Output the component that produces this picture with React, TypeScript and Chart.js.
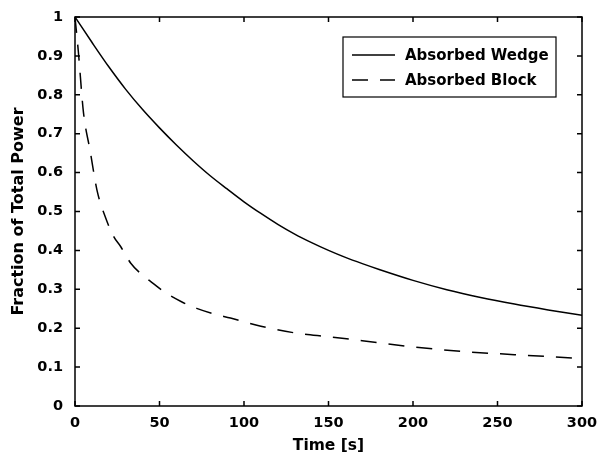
import React, { useEffect, useRef } from "react";
import { Chart, registerables } from "chart.js";

Chart.register(...registerables);

const wedgeTime = [0, 10, 20, 30, 40, 50, 60, 70, 80, 90, 100, 110, 120, 130, 140, 150, 160, 170, 180, 200, 220, 240, 260, 280, 300];
const wedgeFraction = [1.0, 0.935, 0.872, 0.814, 0.762, 0.715, 0.671, 0.63, 0.592, 0.558, 0.525, 0.495, 0.467, 0.442, 0.42, 0.4, 0.382, 0.366, 0.351, 0.323, 0.299, 0.279, 0.262, 0.247, 0.233];

const blockTime = [0, 2, 5, 9, 13, 18, 23, 27, 33, 39, 46, 54, 63, 72, 82, 92, 110, 130, 150, 170, 200, 230, 260, 300];
const blockFraction = [1.0, 0.91, 0.755, 0.655, 0.555, 0.485, 0.435, 0.41, 0.367, 0.34, 0.316, 0.29, 0.268, 0.251, 0.237, 0.226, 0.205, 0.188, 0.178, 0.168, 0.152, 0.14, 0.132, 0.122];

const seriesLabels = ["Absorbed Wedge", "Absorbed Block"];
const xTitle = "Time [s]";
const yTitle = "Fraction of Total Power";

const FONT = "'DejaVu Sans', sans-serif";

const framePlugin = {
  id: "frameAndLegend",
  afterDraw(chart: any) {
    const { ctx, chartArea: a, scales } = chart;
    ctx.save();
    ctx.strokeStyle = "#000";
    ctx.lineWidth = 1.5;
    ctx.setLineDash([]);
    ctx.strokeRect(a.left, a.top, a.right - a.left, a.bottom - a.top);
    const L = 5;
    ctx.beginPath();
    scales.x.ticks.forEach((t: any) => {
      const px = scales.x.getPixelForValue(t.value);
      ctx.moveTo(px, a.bottom);
      ctx.lineTo(px, a.bottom - L);
      ctx.moveTo(px, a.top);
      ctx.lineTo(px, a.top + L);
    });
    scales.y.ticks.forEach((t: any) => {
      const py = scales.y.getPixelForValue(t.value);
      ctx.moveTo(a.left, py);
      ctx.lineTo(a.left + L, py);
      ctx.moveTo(a.right, py);
      ctx.lineTo(a.right - L, py);
    });
    ctx.stroke();

    // legend
    const bx = a.right - 239;
    const by = a.top + 20;
    const bw = 213;
    const bh = 60;
    ctx.fillStyle = "#fff";
    ctx.fillRect(bx, by, bw, bh);
    ctx.lineWidth = 1.2;
    ctx.strokeRect(bx, by, bw, bh);
    ctx.font = `bold 15px ${FONT}`;
    ctx.textBaseline = "middle";
    ctx.textAlign = "left";
    ctx.fillStyle = "#000";
    const rows = [by + 18, by + 43];
    chart.data.datasets.forEach((ds: any, i: number) => {
      ctx.beginPath();
      ctx.lineWidth = 1.5;
      ctx.setLineDash(ds.borderDash || []);
      ctx.moveTo(bx + 9, rows[i]);
      ctx.lineTo(bx + 52, rows[i]);
      ctx.stroke();
      ctx.setLineDash([]);
      ctx.fillText(ds.label, bx + 62, rows[i] + 1);
    });
    ctx.restore();
  },
};

const zeroPad = (s: any) => {
  s.paddingLeft = 0;
  s.paddingRight = 0;
  s.paddingTop = 0;
  s.paddingBottom = 0;
};

export default function App() {
  const ref = useRef<HTMLCanvasElement>(null);
  useEffect(() => {
    if (!ref.current) return;
    const chart = new Chart(ref.current, {
      type: "line",
      data: {
        datasets: [
          {
            label: seriesLabels[0],
            data: wedgeTime.map((t, i) => ({ x: t, y: wedgeFraction[i] })),
            borderColor: "#000",
            borderWidth: 1.5,
            pointRadius: 0,
            cubicInterpolationMode: "monotone",
            fill: false,
          },
          {
            label: seriesLabels[1],
            data: blockTime.map((t, i) => ({ x: t, y: blockFraction[i] })),
            borderColor: "#000",
            borderWidth: 1.5,
            borderDash: [16, 12],
            pointRadius: 0,
            cubicInterpolationMode: "monotone",
            fill: false,
          },
        ],
      },
      options: {
        responsive: false,
        animation: false,
        layout: { padding: { top: 17, right: 17, left: 0, bottom: 0 } },
        plugins: { legend: { display: false }, tooltip: { enabled: false } },
        scales: {
          x: {
            type: "linear",
            min: 0,
            max: 300,
            ticks: { stepSize: 50, color: "#000", padding: 9, maxRotation: 0, font: { family: FONT, size: 14.5, weight: "bold" } },
            grid: { display: false, drawTicks: false },
            border: { display: false },
            title: { display: true, text: xTitle, color: "#000", padding: { top: 0, bottom: -1.5 }, font: { family: FONT, size: 15.5, weight: "bold" } },
            afterFit: (s: any) => { s.height = 48; zeroPad(s); },
          },
          y: {
            min: 0,
            max: 1,
            ticks: {
              stepSize: 0.1,
              color: "#000",
              padding: 12,
              font: { family: FONT, size: 14.5, weight: "bold" },
              callback: (v: any) => String(parseFloat(Number(v).toFixed(1))),
            },
            grid: { display: false, drawTicks: false },
            border: { display: false },
            title: { display: true, text: yTitle, color: "#000", padding: { top: 9.4, bottom: 0 }, font: { family: FONT, size: 16, weight: "bold" } },
            afterFit: (s: any) => { s.width = 75; zeroPad(s); },
          },
        },
      },
      plugins: [framePlugin],
    } as any);
    return () => chart.destroy();
  }, []);
  return (
    <div style={{ position: "fixed", left: 0, top: 0, width: 599, height: 454, background: "#fff" }}>
      <canvas ref={ref} width={599} height={454} style={{ display: "block" }} />
    </div>
  );
}
